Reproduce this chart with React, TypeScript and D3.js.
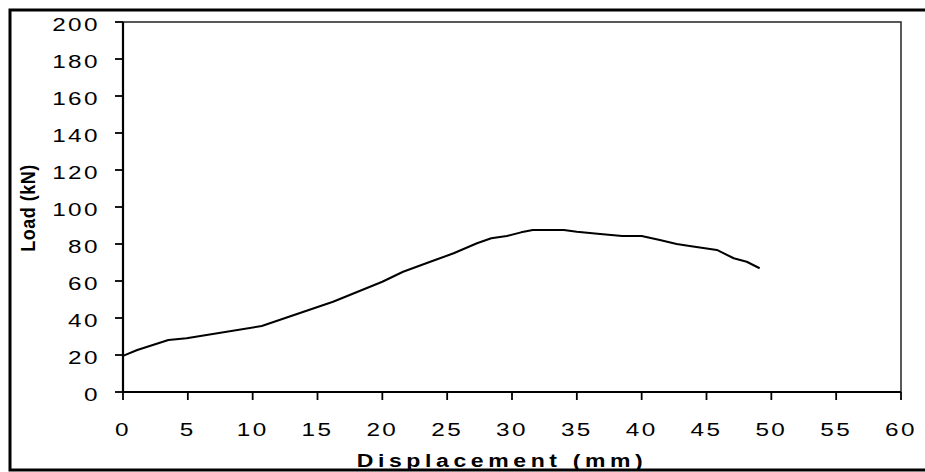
import React from 'react'
import * as d3 from 'd3'

// displacement (mm) and load (kN)
const displacement = [0, 1.1, 3.5, 4.9, 10.7, 16.2, 20.0, 21.6, 23.7, 25.5, 27.3, 28.4, 29.6, 30.7, 31.6, 34.0, 35.0, 36.8, 38.5, 40.0, 41.4, 42.7, 43.7, 45.8, 47.1, 48.1, 49.1];
const load = [19.5, 22.7, 28.1, 29.0, 35.7, 48.8, 59.6, 65.0, 70.4, 75.0, 80.4, 83.1, 84.3, 86.3, 87.6, 87.6, 86.6, 85.4, 84.3, 84.3, 82.2, 80.0, 78.9, 76.8, 72.3, 70.4, 66.9];

const xTicks = [0, 5, 10, 15, 20, 25, 30, 35, 40, 45, 50, 55, 60];
const yTicks = [0, 20, 40, 60, 80, 100, 120, 140, 160, 180, 200];

const FONT = 'Liberation Sans, Arial, sans-serif';
const SX = 1.28; // the source picture is stretched sideways

export default function App() {
  const x = d3.scaleLinear().domain([0, 60]).range([123, 901]);
  const y = d3.scaleLinear().domain([0, 200]).range([392, 22]);

  const points: [number, number][] = displacement.map((d, i) => [d, load[i]]);
  const line = d3.line<[number, number]>()
    .x(d => x(d[0]))
    .y(d => y(d[1]));

  return (
    <svg width={925} height={472} style={{position: 'fixed', left: 0, top: 0, background: '#fff'}}>
      {/* outer frame */}
      <rect x={10} y={10} width={918} height={460} fill="none" stroke="#000" strokeWidth={3} />

      {/* plot frame */}
      <rect x={x(0)} y={y(200)} width={x(60) - x(0)} height={y(0) - y(200)} fill="none" stroke="#222" strokeWidth={1.5} />

      {/* y axis */}
      <line x1={x(0)} x2={x(0)} y1={y(0)} y2={y(200)} stroke="#000" strokeWidth={2.2} />
      {yTicks.map(t => (
        <g key={'y' + t}>
          <line x1={x(0) - 8} x2={x(0)} y1={y(t)} y2={y(t)} stroke="#000" strokeWidth={1.8} />
          <text transform={`translate(100,${y(t) + 9}) scale(${SX},1)`} textAnchor="end"
                fontFamily={FONT} fontSize={19} letterSpacing={1.9} fill="#000">{t}</text>
        </g>
      ))}

      {/* x axis */}
      <line x1={x(0)} x2={x(60)} y1={y(0)} y2={y(0)} stroke="#000" strokeWidth={2.2} />
      {xTicks.map(t => (
        <g key={'x' + t}>
          <line x1={x(t)} x2={x(t)} y1={y(0)} y2={y(0) + 8} stroke="#000" strokeWidth={1.8} />
          <text transform={`translate(${x(t)},436) scale(${SX},1)`} textAnchor="middle"
                fontFamily={FONT} fontSize={19} letterSpacing={1.9} fill="#000">{t}</text>
        </g>
      ))}

      {/* curve */}
      <path d={line(points) || ''} fill="none" stroke="#000" strokeWidth={2} strokeLinejoin="round" />

      {/* axis titles */}
      <text transform={`translate(502,466.5) scale(${SX},1)`} textAnchor="middle"
            fontFamily={FONT} fontSize={18} fontWeight="bold" letterSpacing={3.6} fill="#000">Displacement (mm)</text>
      <text transform={`translate(35,208) scale(1.15,1) rotate(-90)`} textAnchor="middle"
            fontFamily={FONT} fontSize={18} fontWeight="bold" letterSpacing={0.5} fill="#000">Load (kN)</text>
    </svg>
  )
}
